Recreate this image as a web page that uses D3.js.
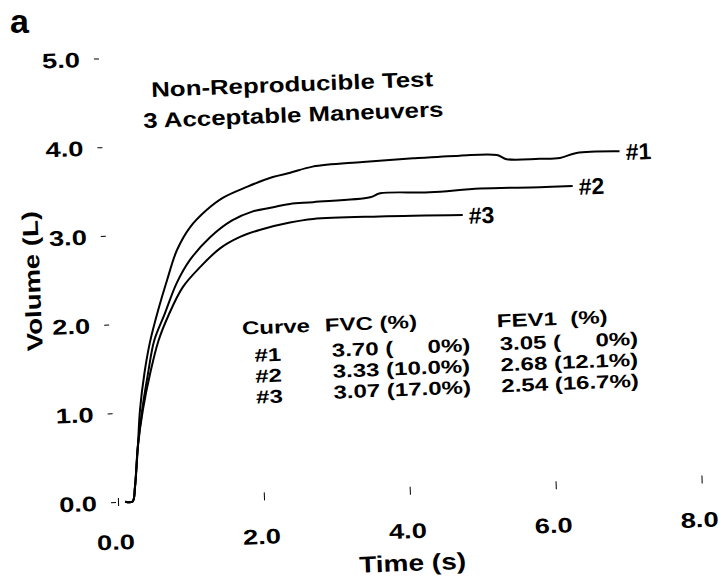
<!DOCTYPE html>
<html>
<head>
<meta charset="utf-8">
<script src="https://cdn.jsdelivr.net/npm/d3@7"></script>
<style>
  body { margin: 0; background: #fff; }
  text { font-family: "Liberation Sans", Arial, sans-serif; font-weight: bold; fill: #000; }
</style>
</head>
<body>
<div id="chart"></div>
<script>
var svgWidth = 720;
var svgHeight = 576;

// volume-time curves (time in s, volume in L)
var curveNames = ["#1", "#2", "#3"];
var curve1Time = [0.10, 0.20, 0.24, 0.30, 0.35, 0.43, 0.52, 0.65, 0.79, 0.94, 1.13, 1.37, 1.60, 1.93, 2.29, 2.53, 2.84, 3.53, 4.22, 4.86, 5.37, 5.50, 5.95, 6.23, 6.46, 7.05];
var curve1Vol  = [0.00, 0.00, 0.16, 0.61, 1.03, 1.44, 1.78, 2.14, 2.48, 2.81, 3.06, 3.25, 3.38, 3.49, 3.59, 3.63, 3.69, 3.72, 3.74, 3.75, 3.74, 3.69, 3.68, 3.68, 3.73, 3.73];
var curve2Time = [0.10, 0.20, 0.24, 0.30, 0.38, 0.48, 0.58, 0.74, 0.92, 1.11, 1.40, 1.71, 1.99, 2.28, 2.51, 2.83, 3.61, 3.75, 4.43, 5.12, 5.94, 6.39];
var curve2Vol  = [0.00, 0.00, 0.16, 0.61, 1.03, 1.44, 1.80, 2.10, 2.44, 2.69, 2.94, 3.12, 3.21, 3.25, 3.28, 3.29, 3.32, 3.36, 3.35, 3.37, 3.36, 3.36];
var curve3Time = [0.10, 0.20, 0.24, 0.30, 0.39, 0.51, 0.64, 0.79, 1.00, 1.25, 1.53, 1.81, 2.08, 2.50, 2.82, 3.73, 4.87];
var curve3Vol  = [0.00, 0.00, 0.16, 0.61, 1.03, 1.44, 1.80, 2.08, 2.39, 2.61, 2.81, 2.93, 3.00, 3.07, 3.10, 3.10, 3.08];

var xTicks = [0, 2, 4, 6, 8];
var yTicks = [0, 1, 2, 3, 4, 5];
var titleLines = ["Non-Reproducible Test", "3 Acceptable Maneuvers"];

// results table
var tableHeaders = ["Curve", "FVC (%)", "FEV1  (%)"];
var fvcValues = ["3.70", "3.33", "3.07"];
var fvcPct = ["0%", "10.0%", "17.0%"];
var fev1Values = ["3.05", "2.68", "2.54"];
var fev1Pct = ["0%", "12.1%", "16.7%"];

var series = [
  { name: curveNames[0], t: curve1Time, v: curve1Vol },
  { name: curveNames[1], t: curve2Time, v: curve2Vol },
  { name: curveNames[2], t: curve3Time, v: curve3Vol }
];

var svg = d3.select("#chart")
  .append("svg")
  .attr("width", svgWidth)
  .attr("height", svgHeight);

// the scanned figure is tilted a little, so the whole plot sits in a rotated group
var chart = svg.append("g")
  .attr("transform", "translate(118,502) rotate(-2.2)");

var x = d3.scaleLinear().domain([0, 8]).range([0, 584]);
var y = d3.scaleLinear().domain([0, 5]).range([0, -444]);

// text helper: glyphs in the figure are wider than Arial, so stretch them
function put(g, px, py, str, opts) {
  opts = opts || {};
  var rot = opts.rotate ? " rotate(" + opts.rotate + ")" : "";
  return g.append("text")
    .attr("transform", `translate(${px},${py})${rot} scale(${opts.stretch || 1.3},1)`)
    .attr("text-anchor", opts.anchor || "start")
    .style("font-size", (opts.size || 18.5) + "px")
    .style("white-space", "pre")
    .text(str);
}

// axes
var fmt = d3.format(".1f");
var xAxis = chart.append("g")
  .call(d3.axisBottom(x).tickValues(xTicks).tickFormat(fmt));
xAxis.select(".domain").remove();
xAxis.selectAll(".tick line").attr("y1", -4).attr("y2", 4).attr("stroke-width", 1);
xAxis.selectAll(".tick text")
  .attr("y", 0).attr("dy", null)
  .attr("transform", "translate(-4,47.5) scale(1.3,1)")
  .style("font-size", "21px");

var yAxis = chart.append("g")
  .call(d3.axisLeft(y).tickValues(yTicks).tickFormat(fmt));
yAxis.select(".domain").remove();
yAxis.selectAll(".tick line").attr("x1", -7).attr("x2", -2).attr("stroke-width", 1);
yAxis.selectAll(".tick text")
  .attr("x", 0).attr("dy", null)
  .attr("text-anchor", "middle")
  .attr("transform", "translate(-40,7.5) scale(1.3,1)")
  .style("font-size", "21px");

put(chart, 292, 80, "Time (s)", { anchor: "middle", size: 23, stretch: 1.22 });
put(chart, -69.5, -224, "Volume (L)", { anchor: "middle", rotate: -90, size: 22, stretch: 1.25 });

// curves
var line = d3.line()
  .x(function(d) { return x(d[0]); })
  .y(function(d) { return y(d[1]); })
  .curve(d3.curveCatmullRom.alpha(0.5));

series.forEach(function(s) {
  var pts = s.t.map(function(t, i) { return [t, s.v[i]]; });
  chart.append("path")
    .datum(pts)
    .attr("fill", "none")
    .attr("stroke", "#000")
    .attr("stroke-width", 2)
    .attr("stroke-linejoin", "round")
    .attr("d", line);
  var last = pts[pts.length - 1];
  put(chart, x(last[0]) + 6, y(last[1]) + 9, s.name, { size: 23, stretch: 1.0 });
});

// title
titleLines.forEach(function(str, i) {
  put(chart, 190, -403.5 + i * 30.7, str, { anchor: "middle", size: 21, stretch: 1.23 });
});

// table
put(chart, 130.5, -162.5, tableHeaders[0]);
put(chart, 213.5, -162.5, tableHeaders[1]);
put(chart, 385.5, -160, tableHeaders[2]);

function cell(colX, rowY, val, pct) {
  if (pct === "0%") {
    put(chart, colX, rowY, val + " (");
    put(chart, colX + 138.5, rowY, pct + ")", { anchor: "end" });
  } else {
    put(chart, colX, rowY, val + " (" + pct + ")");
  }
}

curveNames.forEach(function(name, i) {
  var rowY = -137 + i * 21;
  put(chart, 142, rowY + 2, name);
  cell(219.5, rowY, fvcValues[i], fvcPct[i]);
  cell(387.5, rowY, fev1Values[i], fev1Pct[i]);
});

// panel letter
svg.append("text")
  .attr("x", 10)
  .attr("y", 33)
  .style("font-size", "34px")
  .text("a");
</script>
</body>
</html>
